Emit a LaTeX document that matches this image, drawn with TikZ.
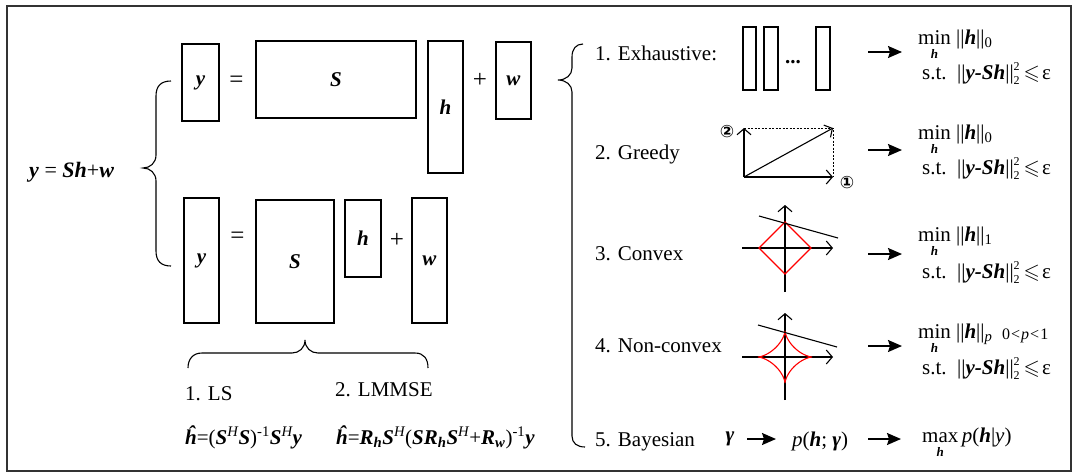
\documentclass[tikz,border=0pt]{standalone}
\usepackage{fontspec}
\usepackage{amssymb}
\setmainfont{Liberation Serif}
\newfontfamily\dejavu{DejaVu Sans}
\usetikzlibrary{arrows.meta}
\newcommand{\bi}[1]{\textbf{\textit{#1}}}
\newcommand{\opu}[2]{\vtop{\baselineskip=14pt\lineskiplimit=-30pt\setbox0=\hbox{#1}\copy0\hbox to \wd0{\hss#2\hss}}}
\newcommand{\subh}{{\fontsize{13}{13}\selectfont\bi{h}}}
\newcommand{\sqtwo}{\makebox[0pt][l]{\raisebox{9pt}{\fontsize{12}{12}\selectfont 2}}\raisebox{-5pt}{\fontsize{12}{12}\selectfont 2}}
\newcommand{\stline}{s.t.\ \ ||\bi{y-Sh}||\sqtwo\kern4pt$\leqslant$\kern2pt ε}
\begin{document}
\begin{tikzpicture}[x=1pt,y=-1pt,font=\fontsize{21}{25}\selectfont,
  mbox/.style={draw,line width=1.1pt,inner sep=0pt},
  brace/.style={line width=1.1pt},
  farrow/.style={line width=1.6pt,-{Stealth[length=14pt,width=12pt,inset=2pt]}},
  oarrow/.style={line width=1.1pt,-{Straight Barb[length=6pt,width=14pt]}},
  txt/.style={inner sep=0pt,anchor=base west},
  op/.style={inner sep=0pt,font=\fontsize{25}{25}\selectfont},
  circ/.style={inner sep=0pt,font=\dejavu\bfseries\fontsize{17}{17}\selectfont}]
\useasboundingbox (0,0) rectangle (1086,475);
\draw[line width=1.2pt,black!80] (7,6) rectangle (1071,471);

% left equation
\node[txt,font=\fontsize{22}{26}\selectfont] (eqn) at (29,177) {\bi{y} = \bi{Sh}+\bi{w}};
\draw[brace] (171,81) .. controls (161,81) and (156,86) .. (156,96) -- (156,155)
  .. controls (156,163) and (150,168) .. (143,168)
  .. controls (150,168) and (156,173) .. (156,181) -- (156,251)
  .. controls (156,261) and (161,266) .. (171,266);

% top row
\node[mbox,minimum width=37pt,minimum height=77pt] (y1) at (200.5,82.5) {\bi{y}};
\node[op] (eq1) at (236.5,82) {=};
\node[mbox,minimum width=160pt,minimum height=77pt] (S1) at (336,79.5) {\bi{S}};
\node[mbox,minimum width=35pt,minimum height=132pt] (h1) at (445.5,107) {\bi{h}};
\node[op] (pl1) at (480,80) {+};
\node[mbox,minimum width=35pt,minimum height=77pt] (w1) at (513.5,80.5) {\bi{w}};

% bottom row
\node[mbox,minimum width=35pt,minimum height=125pt] (y2) at (201.5,260.5) {\bi{y}};
\node[op] (eq2) at (237.5,238) {=};
\node[mbox,minimum width=78pt,minimum height=123pt] (S2) at (295,261.5) {\bi{S}};
\node[mbox,minimum width=36pt,minimum height=77pt] (h2) at (363,238.5) {\bi{h}};
\node[op] (pl2) at (397,240) {+};
\node[mbox,minimum width=35pt,minimum height=125pt] (w2) at (429.5,260.5) {\bi{w}};

% bottom brace
\draw[brace] (188,368) .. controls (188,359) and (193,353) .. (202,353) -- (292,353)
  .. controls (299,353) and (305,348) .. (305,340)
  .. controls (305,348) and (311,353) .. (318,353) -- (415,353)
  .. controls (424,353) and (428,359) .. (428,368);
\node[txt] (ls) at (185,400) {1. LS};
\node[txt] (lmmse) at (335,396) {2. LMMSE};
\node[txt] (fls) at (185,444) {\bi{ĥ}=(\bi{S}\textsuperscript{\itshape H}\bi{S})\textsuperscript{-1}\bi{S}\textsuperscript{\itshape H}\bi{y}};
\node[txt] (flm) at (336,444) {\bi{ĥ}=\bi{R}\textsubscript{\bi{h}}\bi{S}\textsuperscript{\itshape H}(\bi{S}\bi{R}\textsubscript{\bi{h}}\bi{S}\textsuperscript{\itshape H}+\bi{R}\textsubscript{\bi{w}})\textsuperscript{-1}\bi{y}};

% right brace
\draw[brace] (583,44) .. controls (576,44) and (572,49) .. (572,57) -- (572,68)
  .. controls (572,75) and (566,80) .. (558,80)
  .. controls (566,80) and (572,85) .. (572,92) -- (572,436)
  .. controls (572,443) and (577,447) .. (585,447);

% row labels
\node[txt] (r1) at (595,60) {1. Exhaustive:};
\node[txt] (r2) at (595,159) {2. Greedy};
\node[txt] (r3) at (595,260) {3. Convex};
\node[txt] (r4) at (595,352) {4. Non-convex};
\node[txt] (r5) at (595,446) {5. Bayesian};

% exhaustive
\node[mbox,minimum width=13pt,minimum height=63pt] (ex1) at (749.5,58.5) {};
\node[mbox,minimum width=14pt,minimum height=63pt] (ex2) at (771,58.5) {};
\node[inner sep=0pt] (dots) at (793,62) {\textbf{...}};
\node[mbox,minimum width=14pt,minimum height=63pt] (ex3) at (823,58.5) {};

% greedy
\coordinate (O) at (744,177);
\coordinate (X) at (833,177);
\coordinate (Y) at (744,128);
\coordinate (D) at (833,128);
\draw[oarrow] (O) -- (X);
\draw[oarrow] (O) -- (Y);
\draw[oarrow] (O) -- (D);
\draw[line width=1pt,dash pattern=on 2pt off 1.5pt] (Y) -- (D) -- (X);
\node[circ] (c2) at (727,132) {②};
\node[circ] (c1) at (847,183) {①};

% convex
\coordinate (a3b) at (785,292); \coordinate (a3t) at (785,205);
\coordinate (a3l) at (742,248); \coordinate (a3r) at (833,248);
\draw[oarrow] (a3b) -- (a3t);
\draw[oarrow] (a3l) -- (a3r);
\draw[red,line width=1.1pt] (759,248) -- (785,222) -- (811,248) -- (785,274) -- cycle;
\coordinate (l3a) at (759,216); \coordinate (l3b) at (838,238);
\draw[line width=1.1pt] (l3a) -- (l3b);

% non-convex
\coordinate (a4b) at (785,400); \coordinate (a4t) at (785,313);
\coordinate (a4l) at (742,357); \coordinate (a4r) at (833,357);
\draw[oarrow] (a4b) -- (a4t);
\draw[oarrow] (a4l) -- (a4r);
\draw[red,line width=1.1pt] plot[domain=0:360,samples=121,smooth]
  ({785+27*cos(\x)*cos(\x)*cos(\x)},{357+26*sin(\x)*sin(\x)*sin(\x)});
\coordinate (l4a) at (758,325); \coordinate (l4b) at (837,347);
\draw[line width=1.1pt] (l4a) -- (l4b);

% arrows to formulas
\foreach \n/\yy in {1/52,2/150,3/254,4/346}{
  \coordinate (fa\n) at (868,\yy); \coordinate (fb\n) at (902,\yy);
  \draw[farrow] (fa\n) -- (fb\n);
}

% formulas
\node[txt] (m1) at (918,44) {\opu{min}{\subh}\ ||\bi{h}||\textsubscript{0}};
\node[txt] (s1) at (922,79) {\stline};
\node[txt] (m2) at (918,139) {\opu{min}{\subh}\ ||\bi{h}||\textsubscript{0}};
\node[txt] (s2) at (922,174) {\stline};
\node[txt] (m3) at (918,241) {\opu{min}{\subh}\ ||\bi{h}||\textsubscript{1}};
\node[txt] (s3) at (922,278) {\stline};
\node[txt] (m4) at (918,338) {\opu{min}{\subh}\ ||\bi{h}||\textsubscript{\textit{p}}};
\node[txt,font=\fontsize{16}{16}\selectfont] (pr) at (1002,339) {0\kern1pt<\kern1pt\textit{p}\kern1pt<\kern1pt1};
\node[txt] (s4) at (922,374) {\stline};

% bayesian
\node (gam) at (730,439) {\bi{γ}};
\node[txt] (pg) at (792,446) {\textit{p}(\bi{h}; \bi{γ})};
\node[txt] (mx) at (922,442) {\opu{max}{\subh}\,\textit{p}(\bi{h}|\textit{y})};
\coordinate (ba1) at (747,439); \coordinate (bb1) at (776,439);
\coordinate (ba2) at (868,439); \coordinate (bb2) at (901,439);
\draw[farrow] (ba1) -- (bb1);
\draw[farrow] (ba2) -- (bb2);
\end{tikzpicture}
\end{document}
